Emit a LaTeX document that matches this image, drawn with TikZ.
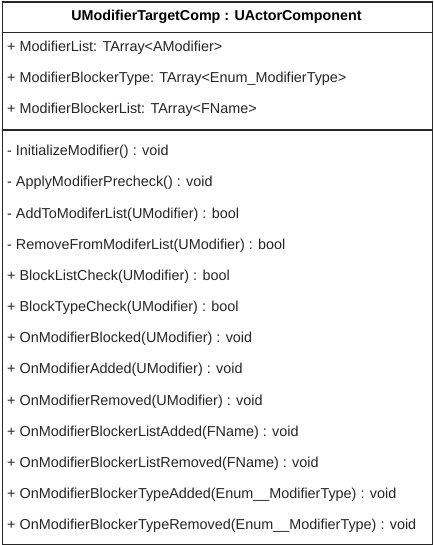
\documentclass[tikz,border=0pt]{standalone}
\usepackage{fontspec}
\setmainfont{Liberation Sans}
\begin{document}
\begin{tikzpicture}[x=1pt,y=-1pt,
  row/.style={anchor=west,inner sep=0pt,font=\fontsize{14.4}{16}\selectfont,text=black!85},
  title/.style={anchor=center,inner sep=0pt,font=\bfseries\fontsize{14.3}{16}\selectfont},
  frame/.style={draw=black!85,line width=1.2pt}]
\useasboundingbox (0,0) rectangle (433,545);
\fill[white] (0,0) rectangle (433,545);
\node[frame,rectangle,minimum width=430pt,minimum height=542pt,anchor=north west,inner sep=0pt] (box) at (1.5,1.5) {};
\coordinate (h1l) at (1.5,32.5);
\coordinate (h1r) at (431.5,32.5);
\coordinate (h2l) at (1.5,130);
\coordinate (h2r) at (431.5,130);
\draw[frame] (h1l) -- (h1r);
\draw[frame] (h2l) -- (h2r);
\node[title] (t) at (216.5,17) {UModifierTargetComp : UActorComponent};
\node[row] (a1) at (7,48) {+ ModifierList: TArray<AModifier>};
\node[row] (a2) at (7,79) {+ ModifierBlockerType: TArray<Enum\_ModifierType>};
\node[row] (a3) at (7,110) {+ ModifierBlockerList: TArray<FName>};
\foreach \t [count=\i from 0] in {
 - InitializeModifier() : void,
 - ApplyModifierPrecheck() : void,
 - AddToModiferList(UModifier) : bool,
 - RemoveFromModiferList(UModifier) : bool,
 + BlockListCheck(UModifier) : bool,
 + BlockTypeCheck(UModifier) : bool,
 + OnModifierBlocked(UModifier) : void,
 + OnModifierAdded(UModifier) : void,
 + OnModifierRemoved(UModifier) : void,
 + OnModifierBlockerListAdded(FName) : void,
 + OnModifierBlockerListRemoved(FName) : void,
 + OnModifierBlockerTypeAdded(Enum\_\_ModifierType) : void,
 + OnModifierBlockerTypeRemoved(Enum\_\_ModifierType) : void}
 \node[row] (m\i) at (7,152+31.17*\i) {\t};
\end{tikzpicture}
\end{document}
